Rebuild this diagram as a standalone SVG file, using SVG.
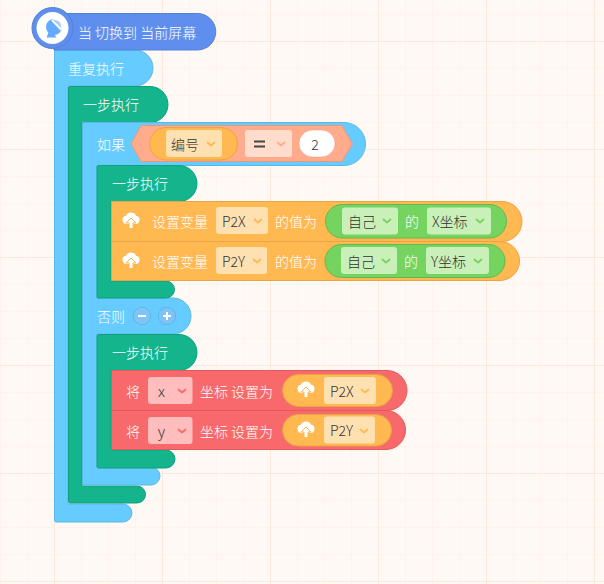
<svg xmlns="http://www.w3.org/2000/svg" width="604" height="584" viewBox="0 0 604 584">
<defs>
<pattern id="minor" width="27" height="27" patternUnits="userSpaceOnUse" x="0" y="14"><path d="M0 .5H27M.5 0V27" fill="none" stroke="#fff3ec" stroke-width="1"/></pattern>
<pattern id="major" width="108" height="108" patternUnits="userSpaceOnUse" x="54" y="41"><path d="M0 .5H108M.5 0V108" fill="none" stroke="#fde8dc" stroke-width="1"/></pattern>
<path id="cv" d="M-3.500 -1.500L0 1.500L3.500 -1.500" fill="none" stroke-width="1.800" stroke-linecap="round" stroke-linejoin="round"/>
<g id="cloud"><path d="M-4.500 3.500A4.200 4.200 0 0 1 -5.200 -4.800A5.800 5.800 0 0 1 5.200 -4.800A4.200 4.200 0 0 1 4.500 3.500Z" fill="#fff"/><path d="M0 -2.500L-5 2.500H-2V8H2V2.500H5Z" fill="#fff" stroke="#ffb950" stroke-width="1"/></g>
</defs>
<style>
text{font-family:"Noto Sans CJK SC","Liberation Sans",sans-serif;font-size:14px;font-weight:300;dominant-baseline:central}
.w{fill:#fff}.d{fill:#333}
.o{fill:#ffb950;stroke:#e8a545}.g{fill:#75d45f;stroke:#64b850}.r{fill:#f7696b;stroke:#e05a5c}
.b{fill:#66ccff;stroke:#5bb8e6}.t{fill:#14b48c;stroke:#10a07c}.h{fill:#5f8fee;stroke:#5580d6}
.dd{fill:#ffe0b0}.dg{fill:#c8f0b8}.dr{fill:#ffbdbd}.dh{fill:#ffdccc}
.co{stroke:#ffb950}.cg{stroke:#75d45f}.cr{stroke:#f7696b}.ch{stroke:#ffab8c}
</style>
<rect width="604" height="584" fill="#fff9f5"/>
<rect width="604" height="584" fill="url(#minor)"/>
<rect width="604" height="584" fill="url(#major)"/>

<g id="repeat">
<path class="b" d="M54.500 50H135A18 18 0 0 1 135 86H68V504H123A9 9 0 0 1 123 522H56Q54.500 522 54.500 520Z"/>
<text class="w" x="68" y="67.500">重复执行</text>
</g>
<g id="step-outer">
<path class="t" d="M68.500 88Q68.500 86.500 70 86.500H150A18 18 0 0 1 150 122.500H82V486H137A8.500 8.500 0 0 1 137 503H70Q68.500 503 68.500 501.500Z"/>
<text class="w" x="83" y="103.500">一步执行</text>
</g>
<g id="if-block">
<path class="b" d="M82.500 122.500H344A21.500 21.500 0 0 1 344 165.500H97V298H173A18 18 0 0 1 173 334H97V467H151A9 9 0 0 1 151 485H82.500Z"/>
<text class="w" x="97" y="144">如果</text>
<text class="w" x="97" y="315.500">否则</text>
</g>
<g id="condition">
<path d="M141 125.500H342L352.500 144L342 161.500H141L131 144Z" fill="#ffab8c" stroke="#e8997c"/>
<rect class="o" x="149.500" y="127.500" width="88" height="32.500" rx="16.200"/>
<rect class="dd" x="166" y="130" width="56" height="27" rx="3"/>
<text class="d" x="171" y="143.500">编号</text>
<use href="#cv" class="co" x="211" y="144"/>
<rect class="dh" x="245" y="130" width="47" height="27" rx="3"/>
<path d="M254 141.500H265M254 146.500H265" stroke="#444" stroke-width="2" fill="none"/>
<use href="#cv" class="ch" x="281" y="144"/>
<rect x="299" y="130" width="36" height="27" rx="13.500" fill="#fff" stroke="#e8997c" stroke-width=".5"/>
<text class="d" x="315" y="143.500" text-anchor="middle">2</text>
</g>
<g id="minus-button"><circle cx="142" cy="316" r="8.700" fill="#7fc4f5" stroke="#5bb8e6"/><path d="M138 316H146" stroke="#fff" stroke-width="2"/></g>
<g id="plus-button"><circle cx="167" cy="316" r="8.700" fill="#7fc4f5" stroke="#5bb8e6"/><path d="M163 316H171M167 312V320" stroke="#fff" stroke-width="2"/></g>

<g id="step-then">
<path class="t" d="M97 167Q97 165.500 98.500 165.500H179A18 18 0 0 1 179 201.500H111V281H166A8.500 8.500 0 0 1 166 298H98.500Q97 298 97 296.500Z"/>
<text class="w" x="112" y="183">一步执行</text>
</g>
<g id="set-p2x">
<path class="o" d="M111.500 201.500H502A20 20 0 0 1 502 241.500H111.500Z"/>
<use href="#cloud" x="131" y="220.500"/>
<text class="w" x="152" y="220.500">设置变量</text>
<rect class="dd" x="216" y="207" width="52" height="27" rx="3"/>
<text class="d" x="222" y="220.500">P2X</text>
<use href="#cv" class="co" x="258" y="221"/>
<text class="w" x="275" y="220.500">的值为</text>
<rect class="g" x="325.500" y="204.500" width="181" height="33.500" rx="16.700"/>
<rect class="dg" x="342" y="207.500" width="56" height="27" rx="3"/>
<text class="d" x="348" y="220.500">自己</text>
<use href="#cv" class="cg" x="387" y="221"/>
<text class="w" x="405" y="220.500">的</text>
<rect class="dg" x="427" y="207.500" width="64" height="27" rx="3"/>
<text class="d" x="432" y="220.500">X坐标</text>
<use href="#cv" class="cg" x="480" y="221"/>
</g>
<g id="set-p2y">
<path class="o" d="M111.500 241.500H500A19.500 19.500 0 0 1 500 280.500H111.500Z"/>
<use href="#cloud" x="131" y="260.500"/>
<text class="w" x="152" y="260.500">设置变量</text>
<rect class="dd" x="216" y="247" width="51" height="27" rx="3"/>
<text class="d" x="222" y="260.500">P2Y</text>
<use href="#cv" class="co" x="257" y="261"/>
<text class="w" x="275" y="260.500">的值为</text>
<rect class="g" x="325" y="244.500" width="180" height="33" rx="16.500"/>
<rect class="dg" x="341" y="247" width="56" height="27" rx="3"/>
<text class="d" x="347" y="260.500">自己</text>
<use href="#cv" class="cg" x="386" y="261"/>
<text class="w" x="404" y="260.500">的</text>
<rect class="dg" x="426" y="247" width="63" height="27" rx="3"/>
<text class="d" x="431" y="260.500">Y坐标</text>
<use href="#cv" class="cg" x="478" y="261"/>
</g>

<g id="step-else">
<path class="t" d="M97 336Q97 334.500 98.500 334.500H179A18 18 0 0 1 179 370.500H111V450H166A9 9 0 0 1 166 468H98.500Q97 468 97 466.500Z"/>
<text class="w" x="112" y="352">一步执行</text>
</g>
<g id="set-x">
<path class="r" d="M111.500 370.500H387A20 20 0 0 1 387 410.500H111.500Z"/>
<text class="w" x="126" y="390.500">将</text>
<rect class="dr" x="148" y="377" width="44.500" height="27" rx="3"/>
<text class="d" x="161.500" y="390" text-anchor="middle" style="font-size:15px">x</text>
<use href="#cv" class="cr" x="182" y="391"/>
<text class="w" x="200" y="390.500">坐标 设置为</text>
<rect class="o" x="282.500" y="374.500" width="110" height="32" rx="16"/>
<use href="#cloud" x="306" y="389.500"/>
<rect class="dd" x="324" y="377" width="52" height="27" rx="3"/>
<text class="d" x="330" y="390.500">P2X</text>
<use href="#cv" class="co" x="365" y="391"/>
</g>
<g id="set-y">
<path class="r" d="M111.500 410.500H386A19.500 19.500 0 0 1 386 449.500H111.500Z"/>
<text class="w" x="126" y="430.500">将</text>
<rect class="dr" x="148" y="417" width="44.500" height="27" rx="3"/>
<text class="d" x="161.500" y="430" text-anchor="middle" style="font-size:15px">y</text>
<use href="#cv" class="cr" x="182" y="431"/>
<text class="w" x="200" y="430.500">坐标 设置为</text>
<rect class="o" x="282.500" y="414.500" width="109" height="31.500" rx="15.700"/>
<use href="#cloud" x="306" y="429.500"/>
<rect class="dd" x="324" y="416.500" width="51" height="27" rx="3"/>
<text class="d" x="330" y="430">P2Y</text>
<use href="#cv" class="co" x="364" y="431"/>
</g>

<g id="hat">
<path class="h" d="M54 13.500H197.500A18.200 18.200 0 0 1 197.500 50H54Z"/>
<circle cx="52.500" cy="28" r="20.500" fill="#5f8fee" stroke="#5580d6"/>
<circle cx="52.500" cy="28" r="16" fill="#fff"/>
<path d="M46.500 37.500L49.500 30L54 33.500L56.500 37.500Z" fill="#66aaff"/>
<circle cx="54" cy="27" r="8" fill="#66aaff"/>
<path d="M51 20.500L60.500 30.500L63 28A7 7 0 0 0 54 19Z" fill="#fff"/>
<path d="M53 20A6.800 6.800 0 0 1 61 28Z" fill="#a6cdff"/>
<text class="w" x="78" y="31.500">当 切换到 当前屏幕</text>
</g>
</svg>
